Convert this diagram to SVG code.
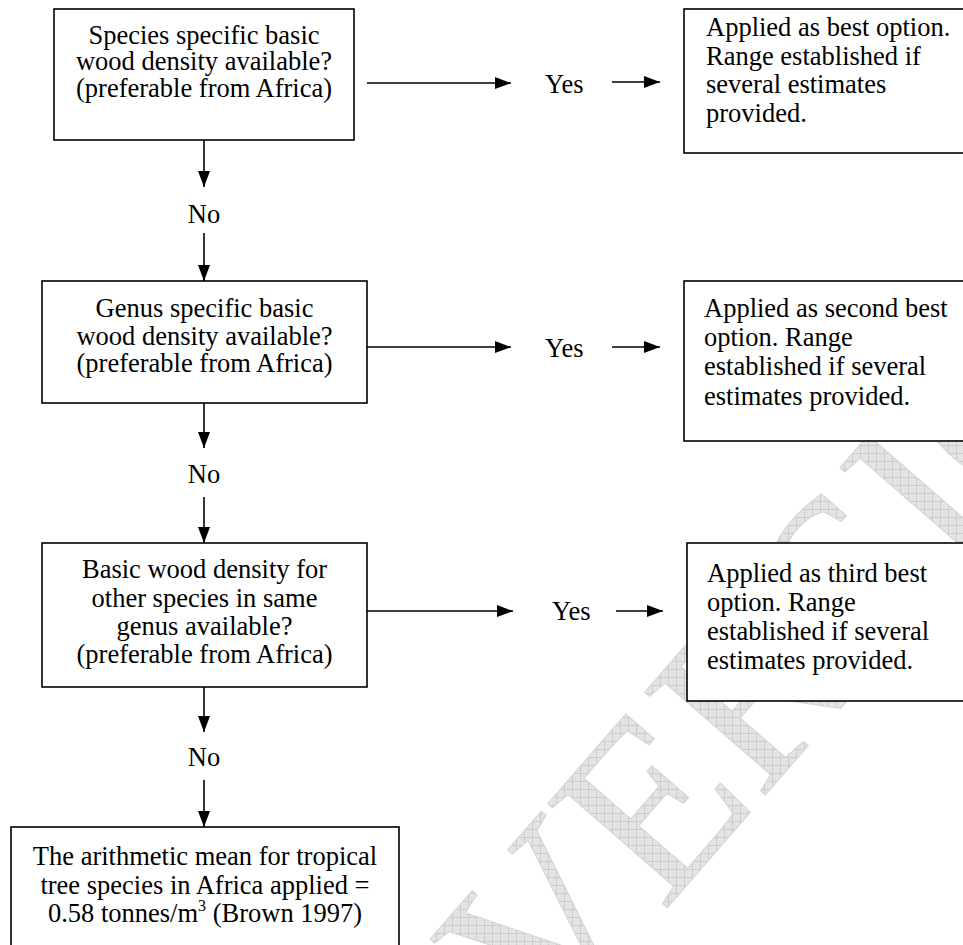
<svg xmlns="http://www.w3.org/2000/svg" width="963" height="945" viewBox="0 0 963 945">
<style>
.box{fill:#fff;stroke:#000;stroke-width:1.6}
.t{font-family:"Liberation Serif","Times New Roman",serif;font-size:26.5px;fill:#000}
.c{text-anchor:middle}
.ln{stroke:#000;stroke-width:1.6;fill:none}
.wm{font-family:"Liberation Serif","Times New Roman",serif;font-size:242px;fill:url(#hatch);stroke:#d4d4d4;stroke-width:1}
</style>
<defs>
<pattern id="hatch" width="8" height="8" patternUnits="userSpaceOnUse" patternTransform="rotate(49)">
<rect width="8" height="8" fill="#e4e4e4"/>
<path d="M0 0.5H8M0.5 0V8" stroke="#cccccc" stroke-width="1"/>
</pattern>
<marker id="ah" markerUnits="userSpaceOnUse" markerWidth="16" markerHeight="12" refX="16" refY="6" orient="auto">
<path d="M0,0 L16,6 L0,12 z" fill="#000"/>
</marker>
</defs>
<rect width="963" height="945" fill="#fff"/>
<g id="watermark">
<text class="wm" transform="translate(548,1045) rotate(-49)">VERSION</text>
</g>
<g id="q1">
<rect class="box" x="54" y="9" width="300" height="131"/>
<text class="t c" x="204" y="44">Species specific basic</text>
<text class="t c" x="204" y="70">wood density available?</text>
<text class="t c" x="204" y="96.5">(preferable from Africa)</text>
</g>
<g id="r1">
<rect class="box" x="684" y="9" width="300" height="144"/>
<text class="t" x="706" y="36">Applied as best option.</text>
<text class="t" x="706" y="64.5">Range established if</text>
<text class="t" x="706" y="93">several estimates</text>
<text class="t" x="706" y="121.5">provided.</text>
</g>
<g id="q2">
<rect class="box" x="42" y="281" width="325" height="122"/>
<text class="t c" x="204.5" y="317">Genus specific basic</text>
<text class="t c" x="204.5" y="344.5">wood density available?</text>
<text class="t c" x="204.5" y="371.5">(preferable from Africa)</text>
</g>
<g id="r2">
<rect class="box" x="684" y="281" width="300" height="160"/>
<text class="t" x="704" y="316.5">Applied as second best</text>
<text class="t" x="704" y="345.5">option. Range</text>
<text class="t" x="704" y="375">established if several</text>
<text class="t" x="704" y="404.5">estimates provided.</text>
</g>
<g id="q3">
<rect class="box" x="42" y="543" width="325" height="144"/>
<text class="t c" x="204.5" y="578">Basic wood density for</text>
<text class="t c" x="204.5" y="606.5">other species in same</text>
<text class="t c" x="204.5" y="635">genus available?</text>
<text class="t c" x="204.5" y="663">(preferable from Africa)</text>
</g>
<g id="r3">
<rect class="box" x="687" y="543" width="300" height="158"/>
<text class="t" x="707" y="582">Applied as third best</text>
<text class="t" x="707" y="611">option. Range</text>
<text class="t" x="707" y="640">established if several</text>
<text class="t" x="707" y="669">estimates provided.</text>
</g>
<g id="final">
<rect class="box" x="11" y="827" width="388" height="130"/>
<text class="t c" x="205" y="865">The arithmetic mean for tropical</text>
<text class="t c" x="205" y="894">tree species in Africa applied =</text>
<text class="t c" x="205" y="922">0.58 tonnes/m<tspan font-size="16" dy="-11">3</tspan><tspan dy="11"> (Brown 1997)</tspan></text>
</g>
<g id="connectors">
<line class="ln" x1="367" y1="83" x2="511" y2="83" marker-end="url(#ah)"/>
<text class="t" x="545" y="93">Yes</text>
<line class="ln" x1="612" y1="82" x2="660" y2="82" marker-end="url(#ah)"/>
<line class="ln" x1="204" y1="140" x2="204" y2="187" marker-end="url(#ah)"/>
<text class="t c" x="204" y="223">No</text>
<line class="ln" x1="204" y1="233" x2="204" y2="281" marker-end="url(#ah)"/>
<line class="ln" x1="367" y1="347" x2="511" y2="347" marker-end="url(#ah)"/>
<text class="t" x="545" y="357">Yes</text>
<line class="ln" x1="612" y1="347" x2="660" y2="347" marker-end="url(#ah)"/>
<line class="ln" x1="204" y1="403" x2="204" y2="448" marker-end="url(#ah)"/>
<text class="t c" x="204" y="483">No</text>
<line class="ln" x1="204" y1="497" x2="204" y2="543" marker-end="url(#ah)"/>
<line class="ln" x1="367" y1="611" x2="513" y2="611" marker-end="url(#ah)"/>
<text class="t" x="552" y="620">Yes</text>
<line class="ln" x1="616" y1="611" x2="663" y2="611" marker-end="url(#ah)"/>
<line class="ln" x1="204" y1="687" x2="204" y2="732" marker-end="url(#ah)"/>
<text class="t c" x="204" y="766">No</text>
<line class="ln" x1="204" y1="780" x2="204" y2="827" marker-end="url(#ah)"/>
</g>
</svg>
